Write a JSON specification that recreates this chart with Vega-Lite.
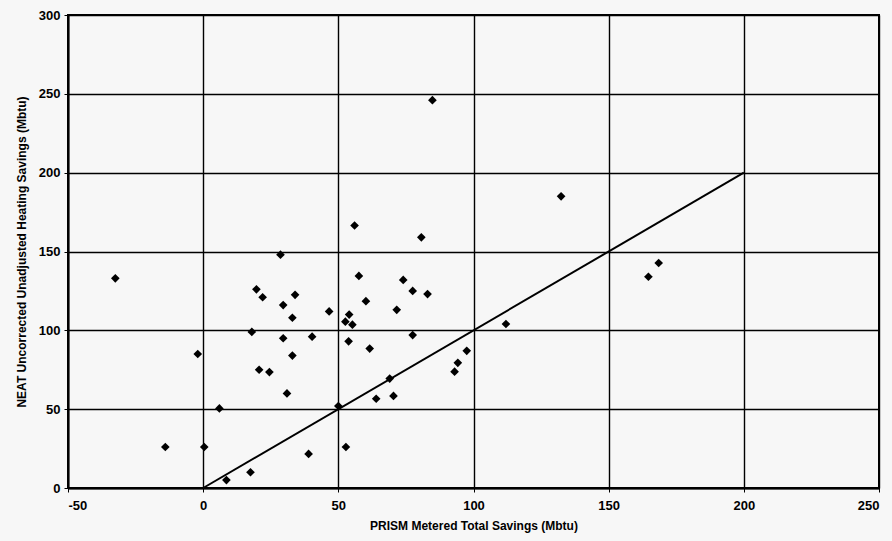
{
  "$schema": "https://vega.github.io/schema/vega-lite/v6.json",
  "autosize": "none",
  "width": 811,
  "height": 473,
  "padding": {"left": 68, "top": 15, "right": 13, "bottom": 53},
  "background": "#f7f7f7",
  "config": {
    "view": {"stroke": "#000000", "strokeWidth": 2, "fill": "#f7f7f7"},
    "axis": {
      "labelFont": "Liberation Sans",
      "labelFontWeight": "bold",
      "labelFontSize": 13,
      "labelColor": "#000000",
      "titleFont": "Liberation Sans",
      "titleFontWeight": "bold",
      "titleFontSize": 12,
      "titleColor": "#000000",
      "domainColor": "#000000",
      "domainWidth": 2,
      "tickColor": "#000000",
      "tickSize": 4,
      "gridColor": "#000000",
      "gridWidth": 1.4,
      "gridOpacity": 1
    }
  },
  "datasets": {
    "savings": [
      {"prism": -32.5, "neat": 133},
      {"prism": -14, "neat": 26},
      {"prism": -2, "neat": 85},
      {"prism": 0.4, "neat": 26},
      {"prism": 6, "neat": 50.5},
      {"prism": 8.6, "neat": 5},
      {"prism": 17.5, "neat": 10},
      {"prism": 18, "neat": 99},
      {"prism": 19.7, "neat": 126},
      {"prism": 20.7, "neat": 75},
      {"prism": 22, "neat": 121},
      {"prism": 24.5, "neat": 73.5},
      {"prism": 28.6, "neat": 148},
      {"prism": 29.6, "neat": 116},
      {"prism": 29.6, "neat": 95},
      {"prism": 31, "neat": 60},
      {"prism": 33, "neat": 108},
      {"prism": 33, "neat": 84},
      {"prism": 34, "neat": 122.5},
      {"prism": 39, "neat": 21.6},
      {"prism": 40.3, "neat": 96},
      {"prism": 46.6, "neat": 112},
      {"prism": 50, "neat": 52},
      {"prism": 52.6, "neat": 105.5},
      {"prism": 52.8, "neat": 26},
      {"prism": 53.8, "neat": 93},
      {"prism": 54, "neat": 110},
      {"prism": 55.2, "neat": 103.6},
      {"prism": 56, "neat": 166.5},
      {"prism": 57.6, "neat": 134.5},
      {"prism": 60.2, "neat": 118.5},
      {"prism": 61.6, "neat": 88.4},
      {"prism": 64, "neat": 56.6},
      {"prism": 69, "neat": 69.4},
      {"prism": 70.4, "neat": 58.4},
      {"prism": 71.6, "neat": 113},
      {"prism": 74, "neat": 132},
      {"prism": 77.5, "neat": 125},
      {"prism": 77.5, "neat": 97},
      {"prism": 80.7, "neat": 159},
      {"prism": 83, "neat": 123},
      {"prism": 84.8, "neat": 246},
      {"prism": 93, "neat": 73.8},
      {"prism": 94.2, "neat": 79.4},
      {"prism": 97.5, "neat": 87},
      {"prism": 112, "neat": 104},
      {"prism": 132.4, "neat": 185},
      {"prism": 164.7, "neat": 134},
      {"prism": 168.5, "neat": 142.7}
    ],
    "parity": [
      {"prism": 0, "neat": 0},
      {"prism": 200, "neat": 200}
    ]
  },
  "encoding": {
    "x": {
      "field": "prism",
      "type": "quantitative",
      "scale": {"domain": [-50, 250], "nice": false, "zero": false},
      "axis": {
        "title": "PRISM Metered Total Savings (Mbtu)",
        "values": [-50, 0, 50, 100, 150, 200, 250],
        "labelExpr": "'' + datum.value",
        "labelPadding": 7,
        "titlePadding": 8
      }
    },
    "y": {
      "field": "neat",
      "type": "quantitative",
      "scale": {"domain": [0, 300], "nice": false},
      "axis": {
        "title": "NEAT Uncorrected Unadjusted Heating Savings (Mbtu)",
        "values": [0, 50, 100, 150, 200, 250, 300],
        "labelPadding": 4,
        "titlePadding": 10
      }
    }
  },
  "layer": [
    {
      "data": {"name": "parity"},
      "mark": {"type": "line", "color": "#000000", "strokeWidth": 2}
    },
    {
      "data": {"name": "savings"},
      "mark": {"type": "point", "shape": "diamond", "filled": true, "color": "#000000", "opacity": 1, "size": 75}
    }
  ]
}
